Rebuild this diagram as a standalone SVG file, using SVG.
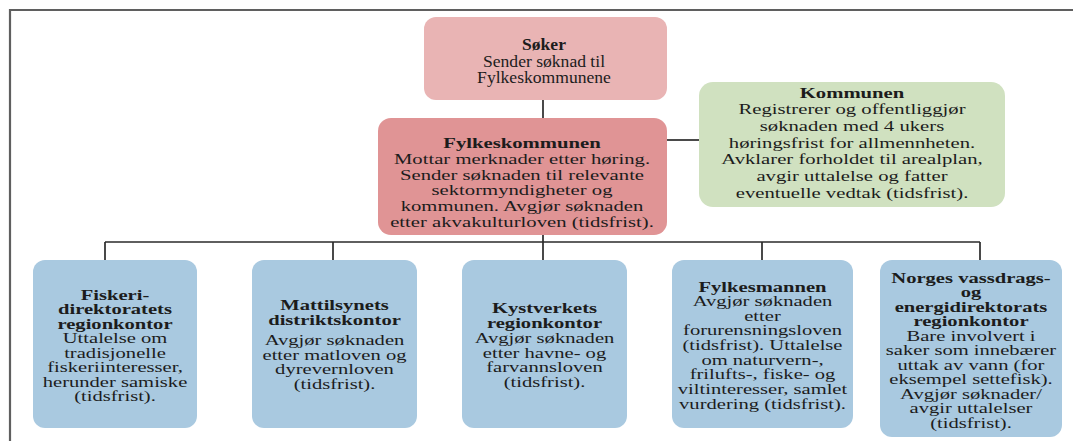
<svg xmlns="http://www.w3.org/2000/svg" width="1073" height="441" viewBox="0 0 1073 441">
<style>
.frame{stroke:#5f5f5f;stroke-width:2.2;fill:none}
.conn{stroke:#2a2a2a;stroke-width:1.7;fill:none}
.pink1{fill:#e9b4b4}
.pink2{fill:#e09495}
.green{fill:#d0e1c0}
.blue{fill:#a9c9e0}
text{font-family:"Liberation Serif","Times New Roman",serif;fill:#1c1c1c;text-anchor:middle}
.m text{font-size:15px}
.s text{font-size:14.2px}
.t text{font-size:16px}
.b{font-weight:bold}
</style>
<rect width="1073" height="441" fill="#ffffff"/>
<path class="frame" d="M10 441 V10 H1073"/>
<g id="connectors">
<path class="conn" d="M543 100 V118"/>
<path class="conn" d="M667 140 H699"/>
<path class="conn" d="M543 235 V260"/>
<path class="conn" d="M105 242 H980"/>
<path class="conn" d="M105 242 V260"/>
<path class="conn" d="M333 242 V260"/>
<path class="conn" d="M762 242 V260"/>
<path class="conn" d="M980 242 V260"/>
</g>
<g id="soker" class="t">
<rect class="pink1" x="424" y="17" width="243" height="83" rx="12"/>
<g transform="translate(544 0) scale(1.1 1)">
<text x="0" y="50.5" class="b">Søker</text>
<text x="0" y="67">Sender søknad til</text>
<text x="0" y="83.5">Fylkeskommunene</text>
</g>
</g>
<g id="fylkeskommunen" class="m">
<rect class="pink2" x="378" y="118" width="289" height="117" rx="13"/>
<g transform="translate(522 0) scale(1.38 1)">
<text x="0" y="148" class="b">Fylkeskommunen</text>
<text x="0" y="164">Mottar merknader etter høring.</text>
<text x="0" y="180">Sender søknaden til relevante</text>
<text x="0" y="195.5">sektormyndigheter og</text>
<text x="0" y="211">kommunen. Avgjør søknaden</text>
<text x="0" y="227">etter akvakulturloven (tidsfrist).</text>
</g>
</g>
<g id="kommunen" class="m">
<rect class="green" x="699" y="82" width="306" height="125" rx="14"/>
<g transform="translate(852 0) scale(1.38 1)">
<text x="0" y="98" class="b">Kommunen</text>
<text x="0" y="114.5">Registrerer og offentliggjør</text>
<text x="0" y="131">søknaden med 4 ukers</text>
<text x="0" y="148">høringsfrist for allmennheten.</text>
<text x="0" y="164.5">Avklarer forholdet til arealplan,</text>
<text x="0" y="181">avgir uttalelse og fatter</text>
<text x="0" y="198">eventuelle vedtak (tidsfrist).</text>
</g>
</g>
<g id="fiskeri" class="s">
<rect class="blue" x="33" y="260" width="164" height="168" rx="12"/>
<g transform="translate(115 0) scale(1.45 1)">
<text x="0" y="300" class="b">Fiskeri-</text>
<text x="0" y="314.5" class="b">direktoratets</text>
<text x="0" y="329" class="b">regionkontor</text>
<text x="0" y="343.5">Uttalelse om</text>
<text x="0" y="358">tradisjonelle</text>
<text x="0" y="372.5">fiskeriinteresser,</text>
<text x="0" y="387">herunder samiske</text>
<text x="0" y="401.5">(tidsfrist).</text>
</g>
</g>
<g id="mattilsynet" class="s">
<rect class="blue" x="252" y="260" width="165" height="168" rx="12"/>
<g transform="translate(334.5 0) scale(1.45 1)">
<text x="0" y="310" class="b">Mattilsynets</text>
<text x="0" y="325" class="b">distriktskontor</text>
<text x="0" y="345">Avgjør søknaden</text>
<text x="0" y="360">etter matloven og</text>
<text x="0" y="374.5">dyrevernloven</text>
<text x="0" y="389">(tidsfrist).</text>
</g>
</g>
<g id="kystverket" class="s">
<rect class="blue" x="462" y="260" width="165" height="168" rx="12"/>
<g transform="translate(544.5 0) scale(1.45 1)">
<text x="0" y="313" class="b">Kystverkets</text>
<text x="0" y="328" class="b">regionkontor</text>
<text x="0" y="343">Avgjør søknaden</text>
<text x="0" y="358">etter havne- og</text>
<text x="0" y="372.5">farvannsloven</text>
<text x="0" y="387">(tidsfrist).</text>
</g>
</g>
<g id="fylkesmannen" class="s">
<rect class="blue" x="672" y="260" width="181" height="168" rx="12"/>
<g transform="translate(762.5 0) scale(1.45 1)">
<text x="0" y="292" class="b">Fylkesmannen</text>
<text x="0" y="306.5">Avgjør søknaden</text>
<text x="0" y="321">etter</text>
<text x="0" y="335.5">forurensningsloven</text>
<text x="0" y="350">(tidsfrist). Uttalelse</text>
<text x="0" y="365">om naturvern-,</text>
<text x="0" y="379.5">frilufts-, fiske- og</text>
<text x="0" y="394">viltinteresser, samlet</text>
<text x="0" y="409">vurdering (tidsfrist).</text>
</g>
</g>
<g id="nve" class="s">
<rect class="blue" x="880" y="260" width="182" height="177" rx="12"/>
<g transform="translate(971 0) scale(1.45 1)">
<text x="0" y="283" class="b">Norges vassdrags-</text>
<text x="0" y="297.5" class="b">og</text>
<text x="0" y="312" class="b">energidirektorats</text>
<text x="0" y="326.5" class="b">regionkontor</text>
<text x="0" y="341">Bare involvert i</text>
<text x="0" y="355.5">saker som innebærer</text>
<text x="0" y="370">uttak av vann (for</text>
<text x="0" y="384.5">eksempel settefisk).</text>
<text x="0" y="399">Avgjør søknader/</text>
<text x="0" y="413.5">avgir uttalelser</text>
<text x="0" y="428">(tidsfrist).</text>
</g>
</g>
</svg>
